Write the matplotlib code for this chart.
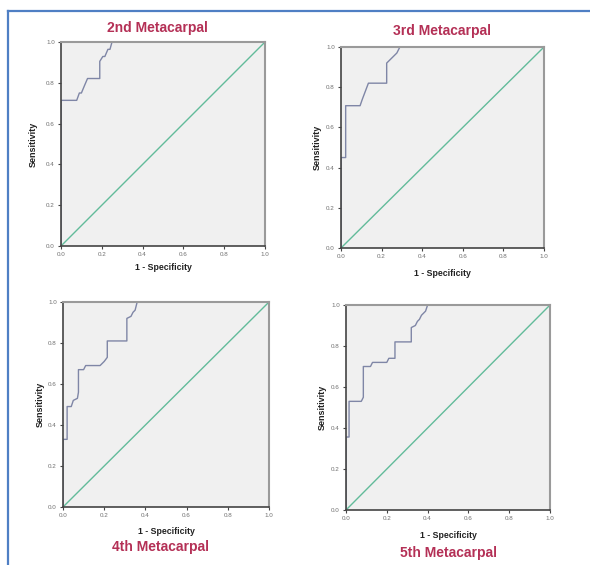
import matplotlib
matplotlib.use('Agg')
import matplotlib.pyplot as plt
from matplotlib.lines import Line2D

plt.rcParams['font.family'] = ['Liberation Sans', 'DejaVu Sans']

titles = ['2nd Metacarpal', '3rd Metacarpal', '4th Metacarpal', '5th Metacarpal']
tick_values = [0.0, 0.2, 0.4, 0.6, 0.8, 1.0]
tick_labels = ['0.0', '0.2', '0.4', '0.6', '0.8', '1.0']

# ROC step curves (1 - specificity, sensitivity)
fpr_2nd = [0, 0, 0.077, 0.09, 0.10, 0.115, 0.13, 0.19, 0.19, 0.205, 0.215, 0.23, 0.24, 0.25, 0.262, 1.0]
tpr_2nd = [0, 0.714, 0.714, 0.75, 0.75, 0.786, 0.821, 0.821, 0.905, 0.929, 0.929, 0.964, 0.964, 1.0, 1.0, 1.0]

fpr_3rd = [0, 0, 0.023, 0.023, 0.094, 0.105, 0.12, 0.135, 0.225, 0.225, 0.245, 0.26, 0.275, 0.29, 1.0]
tpr_3rd = [0, 0.45, 0.45, 0.708, 0.708, 0.74, 0.78, 0.82, 0.82, 0.92, 0.94, 0.955, 0.97, 1.0, 1.0]

fpr_4th = [0, 0, 0.02, 0.02, 0.04, 0.05, 0.07, 0.075, 0.075, 0.10, 0.11, 0.18, 0.20, 0.215, 0.215,
           0.31, 0.31, 0.33, 0.34, 0.35, 0.36, 1.0]
tpr_4th = [0, 0.33, 0.33, 0.49, 0.49, 0.52, 0.53, 0.56, 0.67, 0.67, 0.69, 0.69, 0.71, 0.73, 0.81,
           0.81, 0.92, 0.93, 0.95, 0.96, 1.0, 1.0]

fpr_5th = [0, 0, 0.015, 0.015, 0.075, 0.085, 0.085, 0.12, 0.13, 0.20, 0.21, 0.24, 0.24, 0.32, 0.32,
           0.34, 0.35, 0.36, 0.37, 0.38, 0.39, 0.40, 1.0]
tpr_5th = [0, 0.356, 0.356, 0.53, 0.53, 0.55, 0.70, 0.70, 0.72, 0.72, 0.74, 0.74, 0.82, 0.82, 0.89,
           0.90, 0.92, 0.93, 0.95, 0.96, 0.97, 1.0, 1.0]

curves = [(fpr_2nd, tpr_2nd), (fpr_3rd, tpr_3rd), (fpr_4th, tpr_4th), (fpr_5th, tpr_5th)]

W, H = 590, 565
# panel boxes in pixels: left, top, right, bottom
boxes = [(61, 42, 265, 246), (341, 47, 544, 248), (63, 302, 269, 507), (346, 305, 550, 510)]
title_pos = [(157, 28), (442, 31), (160, 547), (448, 553)]
xlabel_y = [268, 273, 531, 535]
ylabel_x = [33, 317, 40, 322]

fig = plt.figure(figsize=(W / 100, H / 100), dpi=100)
fig.patch.set_facecolor('white')

for i, (l, t, r, b) in enumerate(boxes):
    ax = fig.add_axes([l / W, 1 - b / H, (r - l) / W, (b - t) / H])
    ax.set_facecolor('#f0f0f0')
    fpr, tpr = curves[i]
    ax.plot([0, 1], [0, 1], color='#62bb9a', lw=1.0)
    ax.plot(fpr, tpr, color='#7f86a6', lw=1.0)
    ax.set_xlim(0, 1)
    ax.set_ylim(0, 1)
    ax.set_xticks(tick_values)
    ax.set_xticklabels(tick_labels)
    ax.set_yticks(tick_values)
    ax.set_yticklabels(tick_labels)
    ax.tick_params(direction='out', length=2.5, width=0.8, labelsize=4.5,
                   labelcolor='#707070', color='#444444', pad=2)
    for side in ['left', 'bottom']:
        ax.spines[side].set_color('#444444')
        ax.spines[side].set_linewidth(1.2)
    for side in ['top', 'right']:
        ax.spines[side].set_color('#9a9a9a')
        ax.spines[side].set_linewidth(1.5)
    cx = (l + r) / 2
    fig.text(cx / W, 1 - xlabel_y[i] / H, '1 - Specificity', ha='center', va='center',
             fontsize=6.3, fontweight='bold', color='#222222')
    fig.text(ylabel_x[i] / W, 1 - ((t + b) / 2) / H, 'Sensitivity', ha='center', va='center',
             rotation=90, fontsize=6.5, fontweight='bold', color='#222222')
    tx, ty = title_pos[i]
    fig.text(tx / W, 1 - ty / H, titles[i], ha='center', va='center',
             fontsize=10, fontweight='bold', color='#b43056')

# blue frame on the left and top
fig.add_artist(Line2D([8 / W, 1], [1 - 11 / H, 1 - 11 / H], color='#4f7fc4', lw=1.6))
fig.add_artist(Line2D([8 / W, 8 / W], [0, 1 - 11 / H], color='#4f7fc4', lw=1.6))

fig.savefig('out.png', dpi=100)
